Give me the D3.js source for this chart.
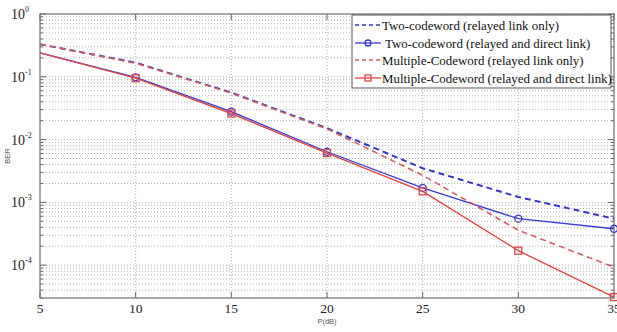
<!DOCTYPE html>
<html><head><meta charset="utf-8">
<script src="https://cdn.jsdelivr.net/npm/d3@7"></script>
<style>body{margin:0;background:#fff;}svg{display:block;}</style>
</head><body>
<svg id="c" width="617" height="332"></svg>
<script>
const snr = [5, 10, 15, 20, 25, 30, 35];
const twoRelayOnly = [0.33, 0.168, 0.056, 0.0152, 0.0035, 0.00122, 0.00055];
const twoRelayDirect = [0.24, 0.098, 0.0278, 0.0064, 0.0017, 0.00055, 0.00038];
const multiRelayOnly = [0.33, 0.165, 0.055, 0.0148, 0.0027, 0.00036, 0.000093];
const multiRelayDirect = [0.24, 0.095, 0.026, 0.0061, 0.0015, 0.00017, 0.000031];
const seriesNames = ["Two-codeword (relayed link only)", " Two-codeword (relayed and direct link)", "Multiple-Codeword (relayed link only)", "Multiple-Codeword (relayed and direct link)"];
const xTicks = [5, 10, 15, 20, 25, 30, 35];
const yExps = [0, -1, -2, -3, -4];
const xLabel = "P(dB)";
const yLabel = "BER";

const svg = d3.select("#c");
const L = 40, R = 614, T = 14, B = 298;
const x = d3.scaleLinear().domain([5, 35]).range([L, R]);
const y = d3.scaleLog().domain([3e-5, 1]).range([B, T]);

const grid = svg.append("g");
const yMinor = [];
for (let e = -5; e <= 0; e++) for (let m = 1; m <= 9; m++) {
  const v = m * Math.pow(10, e);
  if (v >= 3e-5 && v <= 1) yMinor.push(v);
}
grid.selectAll("line.hy").data(yMinor).enter().append("line")
  .attr("x1", L).attr("x2", R).attr("y1", d => y(d)).attr("y2", d => y(d))
  .attr("stroke", "#b0b0b0").attr("stroke-width", 1).attr("stroke-dasharray", "1,2");
grid.selectAll("line.vx").data(xTicks).enter().append("line")
  .attr("y1", T).attr("y2", B).attr("x1", d => x(d)).attr("x2", d => x(d))
  .attr("stroke", "#b0b0b0").attr("stroke-width", 1).attr("stroke-dasharray", "1,2");

const tk = svg.append("g").attr("stroke", "#666");
yMinor.forEach(v => {
  const major = Math.abs(Math.log10(v) - Math.round(Math.log10(v))) < 1e-9;
  const len = major ? 6 : 3;
  tk.append("line").attr("x1", L).attr("x2", L + len).attr("y1", y(v)).attr("y2", y(v));
  tk.append("line").attr("x1", R).attr("x2", R - len).attr("y1", y(v)).attr("y2", y(v));
});
xTicks.forEach(v => {
  tk.append("line").attr("x1", x(v)).attr("x2", x(v)).attr("y1", B).attr("y2", B - 6);
  tk.append("line").attr("x1", x(v)).attr("x2", x(v)).attr("y1", T).attr("y2", T + 6);
});

svg.append("rect").attr("x", L).attr("y", T).attr("width", R - L).attr("height", B - T)
  .attr("fill", "none").attr("stroke", "#777").attr("stroke-width", 1.2);

const font = "Liberation Serif";
xTicks.forEach(v => {
  svg.append("text").attr("x", x(v)).attr("y", B + 15).attr("text-anchor", "middle")
    .attr("font-family", font).attr("font-size", 13.5).attr("fill", "#222").text(v);
});
yExps.forEach(e => {
  const t = svg.append("text").attr("x", 11).attr("y", y(Math.pow(10, e)) + 5)
    .attr("font-family", font).attr("font-size", 14).attr("fill", "#222");
  t.append("tspan").text("10");
  t.append("tspan").attr("dy", -7).attr("font-size", 8).text(e);
});
svg.append("text").attr("x", 327).attr("y", 324).attr("text-anchor", "middle")
  .attr("font-family", "Liberation Sans").attr("font-size", 7.5).attr("fill", "#555").text(xLabel);
svg.append("text").attr("transform", "translate(10,156) rotate(-90)").attr("text-anchor", "middle")
  .attr("font-family", "Liberation Sans").attr("font-size", 7.5).attr("fill", "#555").text(yLabel);

const styles = [
  {data: twoRelayOnly, color: "#3535c8", dash: "6,4", w: 2, marker: null},
  {data: twoRelayDirect, color: "#3a3ad6", dash: null, w: 1.3, marker: "circle"},
  {data: multiRelayOnly, color: "#d06060", dash: "6,4", w: 1.6, marker: null},
  {data: multiRelayDirect, color: "#e04545", dash: null, w: 1.4, marker: "square"}
];
const line = d3.line().x((d, i) => x(snr[i])).y(d => y(d));
const plot = svg.append("g");
styles.forEach(s => {
  plot.append("path").datum(s.data).attr("d", line).attr("fill", "none")
    .attr("stroke", s.color).attr("stroke-width", s.w)
    .attr("stroke-dasharray", s.dash);
  const pts = s.data.map((d, i) => [snr[i], d]).filter(p => p[0] > 5);
  if (s.marker === "circle") {
    plot.selectAll(null).data(pts).enter().append("circle")
      .attr("cx", p => x(p[0])).attr("cy", p => y(p[1])).attr("r", 3.5)
      .attr("fill", "none").attr("stroke", s.color).attr("stroke-width", 1.3);
  } else if (s.marker === "square") {
    plot.selectAll(null).data(pts).enter().append("rect")
      .attr("x", p => x(p[0]) - 3.5).attr("y", p => y(p[1]) - 3.5)
      .attr("width", 7).attr("height", 7)
      .attr("fill", "none").attr("stroke", s.color).attr("stroke-width", 1.3);
  }
});

const lg = svg.append("g");
lg.append("rect").attr("x", 352).attr("y", 15).attr("width", 259).attr("height", 73)
  .attr("fill", "#fff").attr("stroke", "#555").attr("stroke-width", 1);
const rowY = [25, 43, 60, 78];
styles.forEach((s, i) => {
  const yy = rowY[i];
  lg.append("line").attr("x1", 355).attr("x2", 381).attr("y1", yy).attr("y2", yy)
    .attr("stroke", s.color).attr("stroke-width", s.dash ? 1.6 : 1.3).attr("stroke-dasharray", s.dash ? "4,3" : null);
  if (s.marker === "circle") lg.append("circle").attr("cx", 368).attr("cy", yy).attr("r", 3)
    .attr("fill", "none").attr("stroke", s.color).attr("stroke-width", 1.3);
  if (s.marker === "square") lg.append("rect").attr("x", 365).attr("y", yy - 3).attr("width", 6).attr("height", 6)
    .attr("fill", "none").attr("stroke", s.color).attr("stroke-width", 1.3);
  lg.append("text").attr("x", 382).attr("y", yy + 5).attr("font-family", font).attr("font-size", 12.9)
    .attr("fill", "#111").style("white-space", "pre").text(seriesNames[i]);
});
</script>
</body></html>
